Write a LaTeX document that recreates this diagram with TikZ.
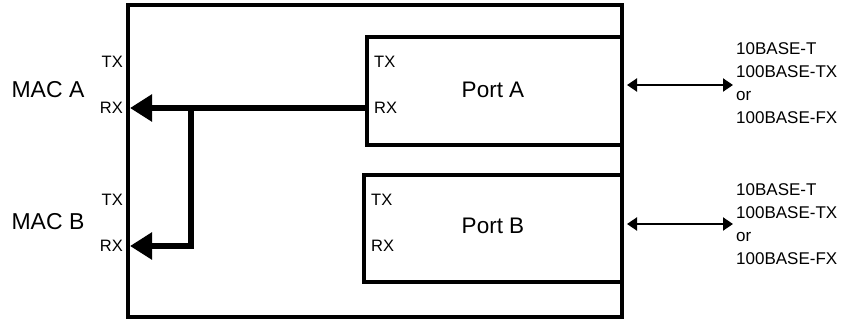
\documentclass[tikz,border=0pt]{standalone}
\usepackage{fontspec}
\setmainfont{Liberation Sans}
\usetikzlibrary{arrows.meta}
\begin{document}
\begin{tikzpicture}[x=1pt,y=-1pt,
  box/.style={draw,line width=3.2pt,rectangle,inner sep=0pt,outer sep=0pt},
  big/.style={font=\fontsize{23}{26}\selectfont,inner sep=0pt},
  portlbl/.style={font=\fontsize{22.5}{26}\selectfont,inner sep=0pt},
  sig/.style={font=\fontsize{16.5}{18}\selectfont,inner sep=0pt},
  std/.style={font=\fontsize{17}{23}\selectfont,inner sep=0pt,align=left,anchor=north west},
  bus/.style={line width=5.5pt,-{Triangle[length=22pt,width=26pt]}},
  link/.style={line width=2pt,{Triangle[length=10pt,width=13pt]}-{Triangle[length=10pt,width=13pt]}}]
\useasboundingbox (0,0) rectangle (845,321);
% outer box
\node[box,minimum width=494pt,minimum height=312pt] (chip) at (375,161) {};
% ports
\node[box,minimum width=255pt,minimum height=108pt] (portA) at (494.5,91) {};
\node[box,minimum width=258pt,minimum height=107pt] (portB) at (493,228.5) {};
\node[portlbl] (lblA) at (493,90) {Port A};
\node[portlbl] (lblB) at (493,226) {Port B};
% MAC labels
\node[big] (macA) at (48,90) {MAC A};
\node[big] (macB) at (48,222) {MAC B};
\node[sig,anchor=east] (txA) at (123,62) {TX};
\node[sig,anchor=east] (rxA) at (123,108) {RX};
\node[sig,anchor=east] (txB) at (123,200) {TX};
\node[sig,anchor=east] (rxB) at (123,246) {RX};
% port signal labels
\node[sig,anchor=west] (ptxA) at (374,62) {TX};
\node[sig,anchor=west] (prxA) at (374,108) {RX};
\node[sig,anchor=west] (ptxB) at (371,200) {TX};
\node[sig,anchor=west] (prxB) at (371,246) {RX};
% bus arrows
\coordinate (srcA) at (367,108);
\coordinate (inA) at (130,108);
\coordinate (inB) at (130,246);
\coordinate (split) at (191,108);
\draw[bus] (srcA) -- (inA);
\draw[bus,line join=miter] (split) |- (inB);
% external links
\coordinate (lA1) at (627,85);
\coordinate (lA2) at (733,85);
\coordinate (lB1) at (627,224);
\coordinate (lB2) at (733,224);
\draw[link] (lA1) -- (lA2);
\draw[link] (lB1) -- (lB2);
\node[std] (medA) at (736,42.8) {10BASE-T\\100BASE-TX\\or\\100BASE-FX};
\node[std] (medB) at (736,183.8) {10BASE-T\\100BASE-TX\\or\\100BASE-FX};
\end{tikzpicture}
\end{document}
